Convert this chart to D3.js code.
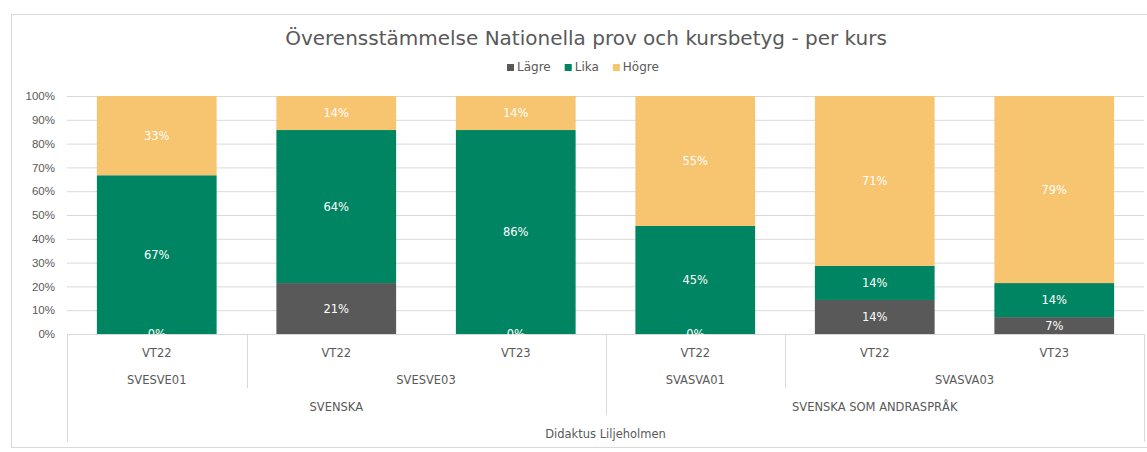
<!DOCTYPE html>
<html>
<head>
<meta charset="utf-8">
<script src="https://cdn.jsdelivr.net/npm/d3@7"></script>
<style>
    body { margin: 0; background: #fff; }
    svg { display: block; font-family: "Century Gothic", "DejaVu Sans", sans-serif; }
    .tick text { fill: #595959; }
</style>
</head>
<body>
<div id="chart"></div>
<script>
'use strict';

// categories, one entry per bar, level by level
const terms = ['VT22', 'VT22', 'VT23', 'VT22', 'VT22', 'VT23'];
const courses = ['SVESVE01', 'SVESVE03', 'SVESVE03', 'SVASVA01', 'SVASVA03', 'SVASVA03'];
const subjects = ['SVENSKA', 'SVENSKA', 'SVENSKA', 'SVENSKA SOM ANDRASPRÅK', 'SVENSKA SOM ANDRASPRÅK', 'SVENSKA SOM ANDRASPRÅK'];
const schools = ['Didaktus Liljeholmen', 'Didaktus Liljeholmen', 'Didaktus Liljeholmen', 'Didaktus Liljeholmen', 'Didaktus Liljeholmen', 'Didaktus Liljeholmen'];

// series values (percent)
const seriesNames = ['Lägre', 'Lika', 'Högre'];
const lagre = [0, 21.4, 0, 0, 14.3, 7.1];
const lika = [66.7, 64.3, 85.7, 45.4, 14.3, 14.3];
const hogre = [33.3, 14.3, 14.3, 54.6, 71.4, 78.6];

const yTicks = [0, 10, 20, 30, 40, 50, 60, 70, 80, 90, 100];

const title = 'Överensstämmelse Nationella prov och kursbetyg - per kurs';

function color(i) {
    let colors = ['#595959', '#008562', '#f7c46f'];
    return colors[i % colors.length];
}

let dim = {
    width: 1147,
    height: 452,
    left: 67,
    right: 1144,
    top: 96,
    bottom: 334,
    rowh: 27
};

let rows = terms.map((t, i) => ({
    idx: i,
    'Lägre': lagre[i],
    'Lika': lika[i],
    'Högre': hogre[i]
}));

let svg = d3.select('#chart')
    .append('svg')
    .attr('width', dim.width)
    .attr('height', dim.height);

// chart frame
svg.append('rect')
    .attr('x', 11.5)
    .attr('y', 14.5)
    .attr('width', 1150)
    .attr('height', 433)
    .attr('fill', 'none')
    .attr('stroke', '#d9d9d9');

svg.append('text')
    .attr('x', 586)
    .attr('y', 45)
    .attr('text-anchor', 'middle')
    .style('font-size', '20px')
    .style('fill', '#595959')
    .text(title);

const xScale = d3.scaleBand()
    .domain(d3.range(terms.length))
    .range([dim.left, dim.right])
    .paddingInner(0.333)
    .paddingOuter(0.1665);

const yScale = d3.scaleLinear()
    .domain([0, 100])
    .range([dim.bottom, dim.top]);

// y axis with gridlines
let yAxis = svg.append('g')
    .attr('transform', `translate(${dim.left},0)`)
    .call(d3.axisLeft(yScale)
        .tickValues(yTicks)
        .tickSize(-(dim.right - dim.left))
        .tickPadding(12)
        .tickFormat((d) => d + '%'));

yAxis.select('.domain').remove();
yAxis.selectAll('line').attr('stroke', '#d9d9d9');
yAxis.selectAll('text').style('font-size', '11.5px');

// stacked bars
const stack = d3.stack().keys(seriesNames);
let layers = stack(rows);

let groups = svg.selectAll('.layer')
    .data(layers)
    .enter()
    .append('g')
    .attr('class', 'layer')
    .attr('fill', (d, i) => color(i));

groups.selectAll('rect')
    .data((d) => d)
    .enter()
    .append('rect')
    .attr('x', (d) => xScale(d.data.idx))
    .attr('y', (d) => yScale(d[1]))
    .attr('width', xScale.bandwidth())
    .attr('height', (d) => yScale(d[0]) - yScale(d[1]));

// multi-level category axis
let axis = svg.append('g').attr('class', 'cataxis');
let levels = [terms, courses, subjects, schools];
let step = xScale.step();
let axisBottom = dim.bottom + dim.rowh * levels.length;

axis.append('line')
    .attr('x1', dim.left).attr('x2', dim.right)
    .attr('y1', dim.bottom + 0.5).attr('y2', dim.bottom + 0.5)
    .attr('stroke', '#d9d9d9');

[dim.left, dim.right].forEach((x) => {
    axis.append('line')
        .attr('x1', x + 0.5).attr('x2', x + 0.5)
        .attr('y1', dim.bottom).attr('y2', axisBottom)
        .attr('stroke', '#d9d9d9');
});

function runs(labels) {
    let out = [];
    labels.forEach((l, i) => {
        let last = out[out.length - 1];
        if (last && last.label === l && labels !== terms) {
            last.end = i;
        } else {
            out.push({ label: l, start: i, end: i });
        }
    });
    return out;
}

levels.forEach((labels, li) => {
    let top = dim.bottom + li * dim.rowh;
    runs(labels).forEach((r) => {
        let x0 = dim.left + r.start * step;
        let x1 = dim.left + (r.end + 1) * step;
        axis.append('text')
            .attr('x', (x0 + x1) / 2)
            .attr('y', top + 23)
            .attr('text-anchor', 'middle')
            .style('font-size', '11.5px')
            .style('fill', '#595959')
            .text(r.label);
        // separator at the start of each group (not for the innermost level)
        if (li > 0 && r.start > 0) {
            axis.append('line')
                .attr('x1', Math.round(x0) + 0.5).attr('x2', Math.round(x0) + 0.5)
                .attr('y1', dim.bottom)
                .attr('y2', top + dim.rowh)
                .attr('stroke', '#d9d9d9');
        }
    });
});

// value labels, drawn on top of every bar
let labels = svg.append('g').attr('class', 'labels');
layers.forEach((layer) => {
    labels.selectAll(null)
        .data(layer)
        .enter()
        .append('text')
        .attr('x', (d) => xScale(d.data.idx) + xScale.bandwidth() / 2)
        .attr('y', (d) => (yScale(d[0]) + yScale(d[1])) / 2)
        .attr('dy', '0.35em')
        .attr('text-anchor', 'middle')
        .style('font-size', '11.5px')
        .style('fill', '#fff')
        .text((d) => Math.round(d[1] - d[0]) + '%');
});

// legend
let legend = svg.append('g')
    .attr('transform', 'translate(507,70)');

let lx = 0;
seriesNames.forEach((name, i) => {
    let item = legend.append('g').attr('transform', `translate(${lx},0)`);
    item.append('rect')
        .attr('x', 0).attr('y', -6)
        .attr('width', 7).attr('height', 7)
        .attr('fill', color(i));
    let t = item.append('text')
        .attr('x', 10)
        .attr('y', 1)
        .style('font-size', '12px')
        .style('fill', '#595959')
        .text(name);
    lx += 10 + t.node().getComputedTextLength() + 14;
});
</script>
</body>
</html>
